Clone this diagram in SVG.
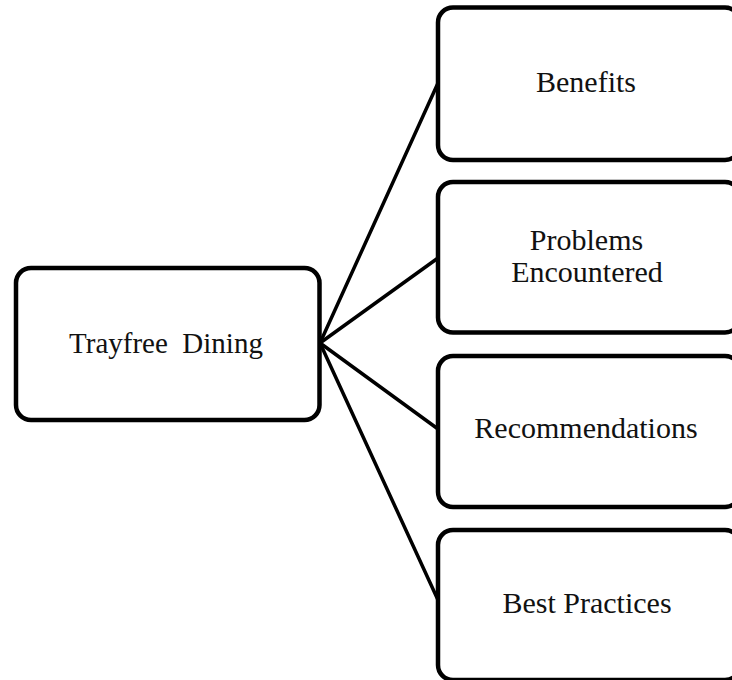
<svg xmlns="http://www.w3.org/2000/svg" width="732" height="680" viewBox="0 0 732 680">
  <style>
    .box { fill: #ffffff; stroke: #000000; stroke-width: 4.5; }
    .conn { stroke: #000000; stroke-width: 3.5; stroke-linecap: round; fill: none; }
    .lbl { font-family: "Liberation Serif", "Times New Roman", serif; font-size: 30px; fill: #111111; text-anchor: middle; }
  </style>
  <rect x="0" y="0" width="732" height="680" fill="#ffffff"/>
  <g id="connectors">
    <line class="conn" x1="320" y1="343" x2="438" y2="83"/>
    <line class="conn" x1="320" y1="343" x2="438" y2="258"/>
    <line class="conn" x1="320" y1="343" x2="438" y2="429"/>
    <line class="conn" x1="320" y1="343" x2="438" y2="600"/>
  </g>
  <g id="node-trayfree">
    <rect class="box" x="16" y="268" width="303.5" height="152" rx="15" ry="15"/>
    <text class="lbl" x="166" y="353" font-size="29" xml:space="preserve" style="white-space:pre;font-size:29px">Trayfree  Dining</text>
  </g>
  <g id="node-benefits">
    <rect class="box" x="438" y="7.5" width="302" height="152.5" rx="15" ry="15"/>
    <text class="lbl" x="586" y="92">Benefits</text>
  </g>
  <g id="node-problems">
    <rect class="box" x="438" y="182" width="302" height="150.5" rx="15" ry="15"/>
    <text class="lbl" x="586.5" y="250">Problems</text>
    <text class="lbl" x="587" y="282">Encountered</text>
  </g>
  <g id="node-recommendations">
    <rect class="box" x="438" y="356" width="302" height="151" rx="15" ry="15"/>
    <text class="lbl" x="586" y="438">Recommendations</text>
  </g>
  <g id="node-best-practices">
    <rect class="box" x="438" y="530" width="302" height="150" rx="15" ry="15"/>
    <text class="lbl" x="587" y="613">Best Practices</text>
  </g>
</svg>
